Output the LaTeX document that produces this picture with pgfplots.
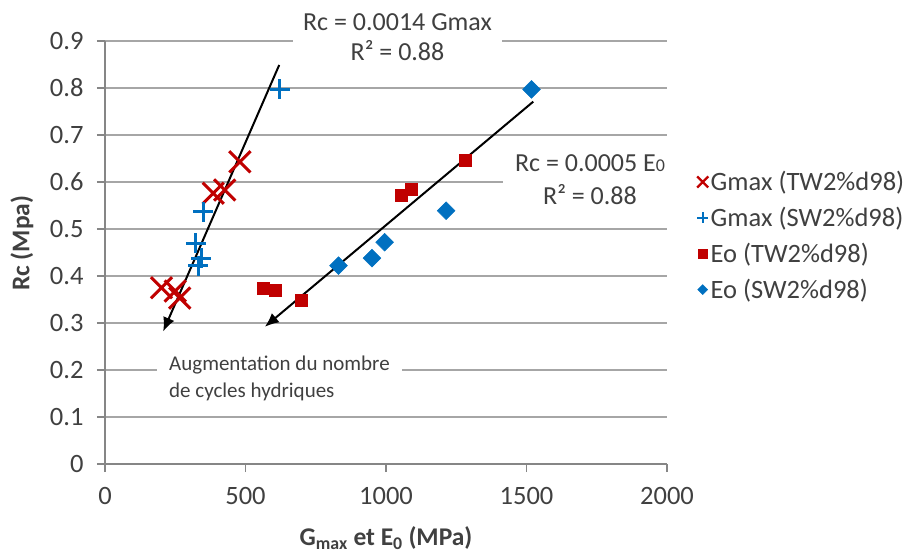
\documentclass[border=0pt]{standalone}
\usepackage{fontspec}
\setmainfont{Carlito}
\usepackage{pgfplots}
\pgfplotsset{compat=1.18}
\usetikzlibrary{arrows.meta}
\definecolor{cred}{RGB}{192,0,0}
\definecolor{cblue}{RGB}{0,112,192}
\definecolor{gridc}{RGB}{166,166,166}
\definecolor{axc}{RGB}{134,134,134}
\definecolor{txt}{RGB}{64,64,64}
\begin{document}
\begin{tikzpicture}
\path[use as bounding box] (-105pt,-93pt) rectangle (807pt,464pt);
\begin{axis}[
  scale only axis, width=562pt, height=423pt,
  xmin=0, xmax=2000, ymin=0, ymax=0.9,
  axis x line=bottom, axis y line=left,
  axis line style={-, axc, line width=1.2pt},
  xtick={0,500,1000,1500,2000},
  ytick={0,0.1,0.2,0.3,0.4,0.5,0.6,0.7,0.8,0.9},
  yticklabel style={/pgf/number format/fixed, /pgf/number format/precision=1, xshift=-10pt},
  xticklabel style={/pgf/number format/1000 sep={}, yshift=-12pt},
  /pgf/number format/assume math mode=true,
  ymajorgrids, grid style={gridc, line width=1.2pt},
  tick align=outside, major tick length=8pt,
  tick style={axc, line width=1.2pt},
  ticklabel style={font=\fontsize{26.5}{30}\selectfont, text=txt},
  xlabel={\textbf{G\textsubscript{max} et E\textsubscript{0} (MPa)}},
  ylabel={\textbf{Rc (Mpa)}},
  xlabel style={font=\fontsize{25.5}{29}\selectfont, text=txt, at={(axis description cs:0.5,-0.175)}, anchor=center},
  ylabel style={font=\fontsize{25.5}{29}\selectfont, text=txt, at={(axis description cs:-0.148,0.522)}, anchor=center},
  clip=false,
  legend style={draw=none, fill=none, at={(axis description cs:1.048,0.699)}, anchor=north west,
    font=\fontsize{26.5}{30}\selectfont, text=txt, row sep=13pt, cells={anchor=west},
    nodes={inner ysep=1pt, inner xsep=2.5pt}},
  legend image code/.code={\draw[#1] plot coordinates {(0pt,0pt)};},
]
\addplot[only marks, mark=x, cred, mark size=15pt, line width=3pt, forget plot]
  coordinates {(201,0.375) (250,0.368) (266,0.353) (385,0.576) (426,0.583) (480,0.643)};
\addplot[only marks, mark=+, cblue, mark size=10pt, line width=3pt, forget plot]
  coordinates {(332,0.422) (343,0.438) (323,0.470) (349,0.537) (622,0.797)};
\addplot[only marks, mark=square*, cred, mark size=6pt, line width=0.5pt, forget plot]
  coordinates {(562,0.375) (606,0.370) (698,0.349) (1054,0.572) (1089,0.585) (1281,0.647)};
\addplot[only marks, mark=square*, cblue, mark size=6.3pt, line width=0.5pt, mark options={rotate=45}, forget plot]
  coordinates {(831,0.422) (950,0.438) (995,0.472) (1214,0.539) (1518,0.797)};
\addplot[black, line width=2pt, -{Latex[length=14pt,width=12pt]}, forget plot]
  coordinates {(620,0.849) (207,0.282)};
\addplot[black, line width=2pt, -{Latex[length=14pt,width=12pt]}, forget plot]
  coordinates {(1524,0.771) (569,0.292)};
\addlegendimage{only marks, mark=x, cred, mark size=7.8pt, line width=2.3pt}
\addlegendentry{Gmax (TW2\%d98)}
\addlegendimage{only marks, mark=+, cblue, mark size=5.5pt, line width=2.3pt}
\addlegendentry{Gmax (SW2\%d98)}
\addlegendimage{only marks, mark=square*, cred, mark size=4.5pt, line width=0.3pt}
\addlegendentry{Eo (TW2\%d98)}
\addlegendimage{only marks, mark=square*, cblue, mark size=3.6pt, line width=0.3pt, mark options={rotate=45}}
\addlegendentry{Eo (SW2\%d98)}
\node[fill=white, align=center, text=txt, font=\fontsize{26}{30}\selectfont, inner xsep=10pt, inner ysep=3pt]
  at (axis cs:1041,0.9085) {Rc = 0.0014 Gmax\\R² = 0.88};
\node[fill=white, align=center, text=txt, font=\fontsize{26}{33}\selectfont, inner xsep=12pt, inner ysep=3pt]
  at (axis cs:1726,0.605) {Rc = 0.0005 E{\fontsize{18}{20}\selectfont 0}\\R² = 0.88};
\node[fill=white, align=left, text=txt, font=\fontsize{21}{27}\selectfont, inner xsep=12pt, inner ysep=2pt, anchor=west]
  at (axis cs:185,0.183) {Augmentation du nombre\\de cycles hydriques};
\end{axis}
\end{tikzpicture}
\end{document}
